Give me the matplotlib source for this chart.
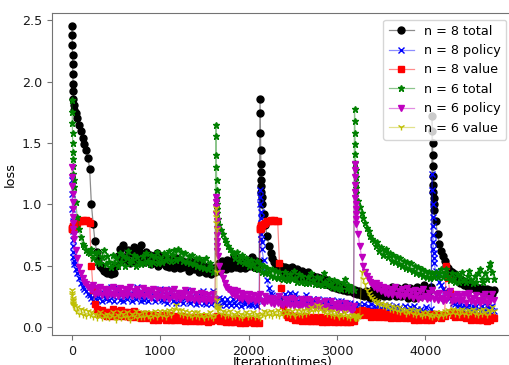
import numpy as np
import matplotlib
matplotlib.use("Agg")
import matplotlib.pyplot as plt
from matplotlib.colors import to_rgba

# iterations: dense right after each restart, every 20 otherwise
x_n8 = np.r_[0:20:2, 20:2130:20, 2130:2150:2, 2150:4080:20, 4080:4100:2, 4100:4800:20]
x_n6 = np.r_[0:20:2, 20:1630:20, 1630:1650:2, 1650:3200:20, 3200:3220:2, 3220:4800:20]

total8 = [
    2.45, 2.38, 2.30, 2.22, 2.14, 2.06, 1.98, 1.92, 1.86, 1.81,
    1.77, 1.74, 1.70, 1.65, 1.60, 1.54, 1.49, 1.44, 1.38, 1.29,
    1.00, 0.84, 0.70, 0.61, 0.55, 0.50, 0.48, 0.46, 0.45, 0.44,
    0.46, 0.43, 0.49, 0.44, 0.50, 0.58, 0.64, 0.55, 0.67, 0.57,
    0.55, 0.63, 0.52, 0.60, 0.65, 0.54, 0.58, 0.62, 0.67, 0.56,
    0.53, 0.61, 0.55, 0.59, 0.51, 0.58, 0.53, 0.60, 0.50, 0.57,
    0.52, 0.58, 0.50, 0.56, 0.49, 0.55, 0.53, 0.48, 0.56, 0.50,
    0.48, 0.55, 0.49, 0.53, 0.50, 0.46, 0.54, 0.49, 0.47, 0.53,
    0.50, 0.45, 0.52, 0.46, 0.50, 0.44, 0.49, 0.47, 0.43, 0.48,
    0.45, 0.49, 0.52, 0.46, 0.54, 0.49, 0.47, 0.55, 0.50, 0.48,
    0.53, 0.57, 0.49, 0.54, 0.48, 0.56, 0.51, 0.48, 0.55, 0.50,
    0.51, 0.57, 0.49, 0.54, 0.48, 0.53,
    1.86, 1.74, 1.58, 1.44, 1.33, 1.26, 1.20, 1.15, 1.10, 1.06,
    1.00, 0.92, 0.83, 0.74, 0.66, 0.60, 0.56, 0.53, 0.51, 0.49,
    0.47, 0.50, 0.45, 0.49, 0.44, 0.48, 0.43, 0.49, 0.45, 0.42,
    0.47, 0.43, 0.40, 0.46, 0.42, 0.39, 0.45, 0.41, 0.38, 0.42,
    0.38, 0.41, 0.36, 0.40, 0.36, 0.39, 0.35, 0.38, 0.34, 0.37,
    0.33, 0.36, 0.32, 0.35, 0.31, 0.34, 0.30, 0.33, 0.29, 0.32,
    0.29, 0.31, 0.28, 0.30, 0.27, 0.29, 0.26, 0.28, 0.25, 0.29,
    0.26, 0.24, 0.28, 0.31, 0.26, 0.24, 0.30, 0.32, 0.27, 0.25,
    0.31, 0.27, 0.25, 0.31, 0.33, 0.27, 0.25, 0.32, 0.28, 0.25,
    0.30, 0.33, 0.27, 0.24, 0.32, 0.28, 0.24, 0.31, 0.33, 0.27,
    0.25, 0.32, 0.34, 0.27, 0.25, 0.30, 0.33,
    1.72, 1.60, 1.50, 1.40, 1.31, 1.23, 1.16, 1.10, 1.05, 1.00,
    0.95, 0.86, 0.76, 0.68, 0.62, 0.58, 0.54, 0.50, 0.48, 0.46,
    0.45, 0.42, 0.43, 0.39, 0.40, 0.36, 0.38, 0.34, 0.36, 0.33,
    0.35, 0.32, 0.34, 0.31, 0.33, 0.30, 0.32, 0.29, 0.31, 0.28,
    0.31, 0.28, 0.30, 0.27, 0.30,
]

policy8 = [
    1.20, 1.08, 0.96, 0.86, 0.78, 0.71, 0.66, 0.61, 0.57, 0.54,
    0.51, 0.47, 0.44, 0.40, 0.36, 0.33, 0.31, 0.29, 0.27, 0.26,
    0.24, 0.21, 0.26, 0.22, 0.25, 0.28, 0.21, 0.26, 0.23, 0.27,
    0.22, 0.33, 0.25, 0.21, 0.27, 0.32, 0.22, 0.26, 0.21, 0.28,
    0.23, 0.30, 0.26, 0.21, 0.27, 0.23, 0.33, 0.25, 0.21, 0.26,
    0.22, 0.27, 0.21, 0.30, 0.24, 0.26, 0.21, 0.27, 0.23, 0.31,
    0.22, 0.21, 0.26, 0.20, 0.25, 0.31, 0.21, 0.26, 0.20, 0.24,
    0.21, 0.26, 0.20, 0.24, 0.30, 0.21, 0.20, 0.25, 0.22, 0.19,
    0.22, 0.20, 0.25, 0.29, 0.20, 0.19, 0.24, 0.21, 0.19, 0.29,
    0.21, 0.19, 0.24, 0.18, 0.23, 0.20, 0.18, 0.23, 0.20, 0.18,
    0.23, 0.20, 0.18, 0.23, 0.21, 0.17, 0.22, 0.19, 0.23, 0.18,
    0.22, 0.18, 0.22, 0.19, 0.17, 0.22,
    1.12, 1.06, 1.00, 0.94, 0.89, 0.84, 0.80, 0.76, 0.72, 0.69,
    0.64, 0.55, 0.46, 0.38, 0.32, 0.28, 0.26, 0.25, 0.24, 0.23,
    0.25, 0.21, 0.24, 0.27, 0.21, 0.23, 0.28, 0.21, 0.25, 0.27,
    0.21, 0.20, 0.24, 0.21, 0.19, 0.26, 0.20, 0.23, 0.19, 0.23,
    0.20, 0.18, 0.23, 0.21, 0.18, 0.22, 0.18, 0.22, 0.20, 0.17,
    0.22, 0.19, 0.17, 0.21, 0.17, 0.21, 0.18, 0.16, 0.20, 0.17,
    0.20, 0.16, 0.19, 0.17, 0.15, 0.19, 0.14, 0.17, 0.19, 0.14,
    0.17, 0.14, 0.19, 0.14, 0.17, 0.13, 0.18, 0.15, 0.13, 0.17,
    0.15, 0.13, 0.18, 0.13, 0.16, 0.13, 0.17, 0.12, 0.16, 0.14,
    0.12, 0.17, 0.14, 0.12, 0.16, 0.12, 0.17, 0.12, 0.15, 0.13,
    0.15, 0.12, 0.11, 0.16, 0.12, 0.11, 0.15,
    1.25, 1.12, 1.00, 0.90, 0.82, 0.75, 0.69, 0.64, 0.60, 0.56,
    0.52, 0.46, 0.41, 0.37, 0.34, 0.31, 0.29, 0.27, 0.25, 0.24,
    0.22, 0.20, 0.19, 0.17, 0.18, 0.19, 0.15, 0.18, 0.16, 0.14,
    0.18, 0.14, 0.17, 0.13, 0.17, 0.15, 0.13, 0.17, 0.15, 0.13,
    0.17, 0.13, 0.16, 0.17, 0.13,
]

value8 = [
    0.80, 0.80, 0.81, 0.80, 0.81, 0.81, 0.82, 0.81, 0.82, 0.82,
    0.83, 0.84, 0.85, 0.86, 0.86, 0.87, 0.86, 0.87, 0.86, 0.85,
    0.50, 0.30, 0.19, 0.15, 0.13, 0.11, 0.14, 0.10, 0.12, 0.09,
    0.12, 0.09, 0.15, 0.10, 0.13, 0.09, 0.12, 0.14, 0.09, 0.12,
    0.09, 0.12, 0.08, 0.11, 0.13, 0.08, 0.11, 0.09, 0.07, 0.11,
    0.08, 0.11, 0.07, 0.10, 0.08, 0.06, 0.10, 0.08, 0.06, 0.09,
    0.07, 0.10, 0.06, 0.08, 0.10, 0.06, 0.08, 0.06, 0.09, 0.07,
    0.06, 0.09, 0.07, 0.05, 0.08, 0.06, 0.05, 0.08, 0.06, 0.05,
    0.08, 0.05, 0.07, 0.05, 0.08, 0.06, 0.04, 0.07, 0.05, 0.07,
    0.06, 0.09, 0.07, 0.05, 0.08, 0.05, 0.04, 0.07, 0.05, 0.04,
    0.06, 0.04, 0.07, 0.05, 0.03, 0.06, 0.05, 0.03, 0.06, 0.04,
    0.06, 0.04, 0.03, 0.05, 0.04, 0.03,
    0.80, 0.80, 0.81, 0.81, 0.81, 0.82, 0.82, 0.82, 0.83, 0.83,
    0.83, 0.84, 0.85, 0.86, 0.86, 0.87, 0.86, 0.87, 0.86, 0.86,
    0.52, 0.32, 0.18, 0.12, 0.10, 0.08, 0.10, 0.07, 0.09, 0.06,
    0.09, 0.06, 0.08, 0.05, 0.07, 0.09, 0.05, 0.07, 0.05, 0.08,
    0.05, 0.07, 0.05, 0.08, 0.04, 0.07, 0.05, 0.04, 0.07, 0.05,
    0.07, 0.04, 0.06, 0.04, 0.07, 0.05, 0.04, 0.06, 0.04, 0.06,
    0.04, 0.06, 0.05, 0.08, 0.11, 0.13, 0.10, 0.14, 0.11, 0.13,
    0.10, 0.12, 0.08, 0.11, 0.09, 0.12, 0.08, 0.10, 0.12, 0.08,
    0.11, 0.08, 0.10, 0.07, 0.11, 0.08, 0.10, 0.07, 0.10, 0.08,
    0.10, 0.07, 0.09, 0.11, 0.07, 0.09, 0.06, 0.10, 0.08, 0.06,
    0.09, 0.07, 0.10, 0.06, 0.09, 0.07, 0.06,
    0.09, 0.07, 0.10, 0.08, 0.11, 0.08, 0.07, 0.10, 0.08, 0.09,
    0.09, 0.11, 0.08, 0.10, 0.07, 0.10, 0.09, 0.50, 0.40, 0.28,
    0.12, 0.10, 0.08, 0.11, 0.09, 0.11, 0.08, 0.10, 0.07, 0.10,
    0.08, 0.06, 0.09, 0.07, 0.09, 0.06, 0.08, 0.06, 0.09, 0.07,
    0.05, 0.08, 0.06, 0.08, 0.07,
]

total6 = [
    1.85, 1.75, 1.66, 1.58, 1.50, 1.43, 1.37, 1.31, 1.25, 1.20,
    1.14, 1.02, 0.90, 0.80, 0.73, 0.68, 0.66, 0.63, 0.61, 0.60,
    0.64, 0.56, 0.60, 0.53, 0.61, 0.52, 0.57, 0.63, 0.51, 0.58,
    0.53, 0.49, 0.59, 0.52, 0.56, 0.50, 0.60, 0.53, 0.58, 0.50,
    0.56, 0.62, 0.52, 0.55, 0.59, 0.50, 0.57, 0.53, 0.51, 0.58,
    0.52, 0.60, 0.54, 0.51, 0.59, 0.53, 0.57, 0.61, 0.52, 0.56,
    0.53, 0.60, 0.55, 0.58, 0.62, 0.54, 0.59, 0.63, 0.55, 0.64,
    0.56, 0.61, 0.54, 0.60, 0.53, 0.58, 0.52, 0.59, 0.51, 0.56,
    0.50, 0.56, 0.49, 0.55, 0.48, 0.56, 0.47, 0.52, 0.49, 0.45,
    0.46,
    1.65, 1.56, 1.40, 1.30, 1.20, 1.12, 1.05, 1.00, 0.96, 0.93,
    0.88, 0.83, 0.79, 0.76, 0.72, 0.69, 0.66, 0.64, 0.61, 0.60,
    0.56, 0.61, 0.54, 0.57, 0.59, 0.52, 0.56, 0.53, 0.50, 0.55,
    0.51, 0.48, 0.54, 0.47, 0.51, 0.45, 0.50, 0.44, 0.48, 0.45,
    0.42, 0.47, 0.41, 0.46, 0.40, 0.45, 0.41, 0.39, 0.45, 0.40,
    0.38, 0.43, 0.39, 0.46, 0.40, 0.37, 0.43, 0.37, 0.42, 0.37,
    0.36, 0.41, 0.36, 0.44, 0.38, 0.35, 0.41, 0.35, 0.40, 0.34,
    0.44, 0.37, 0.34, 0.39, 0.35, 0.33, 0.38, 0.32, 0.37, 0.32,
    0.31, 0.36, 0.39, 0.31, 0.34, 0.30, 0.33, 0.30,
    1.78, 1.68, 1.58, 1.49, 1.41, 1.34, 1.28, 1.22, 1.17, 1.13,
    1.09, 1.03, 0.98, 0.93, 0.89, 0.85, 0.81, 0.78, 0.74, 0.72,
    0.70, 0.66, 0.69, 0.62, 0.65, 0.59, 0.62, 0.64, 0.57, 0.60,
    0.54, 0.59, 0.53, 0.57, 0.51, 0.56, 0.50, 0.54, 0.48, 0.53,
    0.47, 0.52, 0.46, 0.50, 0.44, 0.49, 0.43, 0.47, 0.42, 0.46,
    0.41, 0.45, 0.40, 0.44, 0.41, 0.45, 0.41, 0.44, 0.47, 0.41,
    0.43, 0.47, 0.41, 0.38, 0.44, 0.39, 0.37, 0.43, 0.37, 0.41,
    0.45, 0.38, 0.37, 0.42, 0.46, 0.38, 0.36, 0.42, 0.37, 0.44,
    0.47, 0.39, 0.37, 0.44, 0.39, 0.49, 0.52, 0.45, 0.39,
]

policy6 = [
    1.30, 1.22, 1.15, 1.08, 1.02, 0.96, 0.90, 0.85, 0.80, 0.76,
    0.72, 0.63, 0.56, 0.49, 0.44, 0.40, 0.37, 0.35, 0.33, 0.32,
    0.30, 0.34, 0.27, 0.32, 0.28, 0.33, 0.26, 0.31, 0.29, 0.25,
    0.31, 0.27, 0.33, 0.26, 0.30, 0.25, 0.32, 0.28, 0.25, 0.31,
    0.26, 0.30, 0.33, 0.25, 0.29, 0.26, 0.31, 0.25, 0.28, 0.32,
    0.25, 0.30, 0.26, 0.29, 0.24, 0.31, 0.27, 0.24, 0.30, 0.25,
    0.29, 0.24, 0.30, 0.26, 0.23, 0.29, 0.25, 0.31, 0.24, 0.28,
    0.23, 0.28, 0.25, 0.30, 0.23, 0.27, 0.24, 0.29, 0.22, 0.27,
    0.24, 0.21, 0.28, 0.23, 0.27, 0.21, 0.26, 0.23, 0.21, 0.27,
    0.23,
    1.06, 1.02, 0.98, 0.92, 0.86, 0.80, 0.75, 0.70, 0.66, 0.62,
    0.58, 0.50, 0.44, 0.40, 0.36, 0.33, 0.31, 0.30, 0.27, 0.30,
    0.25, 0.29, 0.24, 0.28, 0.23, 0.27, 0.24, 0.21, 0.27, 0.23,
    0.26, 0.21, 0.25, 0.22, 0.27, 0.21, 0.20, 0.25, 0.21, 0.24,
    0.20, 0.24, 0.19, 0.23, 0.20, 0.25, 0.19, 0.18, 0.23, 0.19,
    0.22, 0.18, 0.24, 0.17, 0.22, 0.19, 0.17, 0.23, 0.18, 0.21,
    0.17, 0.23, 0.16, 0.21, 0.18, 0.16, 0.22, 0.17, 0.20, 0.16,
    0.15, 0.21, 0.17, 0.15, 0.21, 0.15, 0.19, 0.16, 0.14, 0.20,
    0.16, 0.14, 0.20, 0.15, 0.18, 0.15, 0.13, 0.17,
    1.33, 1.28, 1.22, 1.16, 1.10, 1.05, 1.00, 0.96, 0.92, 0.88,
    0.84, 0.76, 0.66, 0.57, 0.50, 0.45, 0.42, 0.39, 0.37, 0.35,
    0.33, 0.36, 0.31, 0.34, 0.29, 0.33, 0.28, 0.32, 0.27, 0.31,
    0.26, 0.30, 0.33, 0.26, 0.29, 0.25, 0.31, 0.25, 0.28, 0.32,
    0.25, 0.29, 0.24, 0.30, 0.26, 0.23, 0.29, 0.24, 0.31, 0.25,
    0.23, 0.28, 0.24, 0.30, 0.23, 0.27, 0.22, 0.28, 0.24, 0.21,
    0.27, 0.22, 0.26, 0.29, 0.21, 0.25, 0.22, 0.27, 0.21, 0.25,
    0.22, 0.27, 0.20, 0.25, 0.28, 0.21, 0.24, 0.20, 0.26, 0.22,
    0.20, 0.25, 0.21, 0.27, 0.20, 0.24, 0.21, 0.27, 0.22,
]

value6 = [
    0.30, 0.28, 0.26, 0.24, 0.22, 0.21, 0.20, 0.19, 0.18, 0.17,
    0.17, 0.13, 0.16, 0.11, 0.15, 0.10, 0.14, 0.09, 0.13, 0.10,
    0.12, 0.08, 0.11, 0.07, 0.10, 0.12, 0.07, 0.10, 0.08, 0.11,
    0.07, 0.10, 0.12, 0.08, 0.06, 0.10, 0.12, 0.07, 0.11, 0.08,
    0.12, 0.08, 0.06, 0.11, 0.09, 0.13, 0.07, 0.11, 0.08, 0.12,
    0.08, 0.12, 0.09, 0.07, 0.12, 0.09, 0.13, 0.08, 0.11, 0.13,
    0.09, 0.13, 0.08, 0.12, 0.14, 0.10, 0.13, 0.15, 0.18, 0.14,
    0.11, 0.14, 0.10, 0.13, 0.09, 0.12, 0.10, 0.08, 0.12, 0.09,
    0.12, 0.08, 0.11, 0.09, 0.07, 0.11, 0.08, 0.12, 0.09, 0.07,
    0.10,
    0.97, 0.94, 0.90, 0.85, 0.80, 0.45, 0.22, 0.18, 0.16, 0.15,
    0.14, 0.16, 0.11, 0.13, 0.09, 0.12, 0.10, 0.13, 0.08, 0.11,
    0.09, 0.12, 0.08, 0.11, 0.07, 0.10, 0.12, 0.08, 0.11, 0.09,
    0.12, 0.08, 0.11, 0.09, 0.07, 0.11, 0.13, 0.09, 0.12, 0.10,
    0.13, 0.09, 0.12, 0.10, 0.14, 0.09, 0.12, 0.10, 0.13, 0.11,
    0.14, 0.10, 0.13, 0.11, 0.09, 0.14, 0.11, 0.13, 0.10, 0.14,
    0.11, 0.15, 0.12, 0.16, 0.13, 0.15, 0.18, 0.13, 0.17, 0.14,
    0.12, 0.15, 0.11, 0.13, 0.10, 0.13, 0.09, 0.12, 0.10, 0.08,
    0.11, 0.09, 0.12, 0.08, 0.10, 0.07, 0.10, 0.08,
    0.09, 0.07, 0.10, 0.08, 0.07, 0.09, 0.07, 0.10, 0.08, 0.07,
    0.09, 0.07, 0.09, 0.45, 0.39, 0.35, 0.30, 0.28, 0.25, 0.24,
    0.22, 0.20, 0.21, 0.18, 0.20, 0.17, 0.19, 0.16, 0.18, 0.15,
    0.17, 0.14, 0.16, 0.13, 0.16, 0.12, 0.15, 0.13, 0.11, 0.14,
    0.12, 0.15, 0.11, 0.13, 0.10, 0.14, 0.11, 0.09, 0.12, 0.10,
    0.12, 0.09, 0.11, 0.08, 0.10, 0.12, 0.08, 0.10, 0.12, 0.09,
    0.13, 0.10, 0.14, 0.11, 0.13, 0.15, 0.11, 0.14, 0.10, 0.13,
    0.15, 0.11, 0.13, 0.10, 0.14, 0.12, 0.15, 0.11, 0.13, 0.10,
    0.14, 0.11, 0.15, 0.12, 0.10, 0.14, 0.12, 0.16, 0.13,
]

series = [
    (x_n8, total8, 'k', 'o', 'n = 8 total'),
    (x_n8, policy8, 'b', 'x', 'n = 8 policy'),
    (x_n8, value8, 'r', 's', 'n = 8 value'),
    (x_n6, total6, 'g', '*', 'n = 6 total'),
    (x_n6, policy6, 'm', 'v', 'n = 6 policy'),
    (x_n6, value6, 'y', '1', 'n = 6 value'),
]

plt.rcParams['font.size'] = 9.2

fig = plt.figure(figsize=(5.1, 3.65), dpi=100)
ax = fig.add_axes([0.102, 0.082, 0.903, 0.882])

for x, y, c, m, lab in series:
    ax.plot(x, y, color=to_rgba(c, 0.45), lw=0.9, marker=m, ms=5,
            mfc=c, mec=c, label=lab)

ax.set_xlim(-226, 4990)
ax.set_ylim(-0.065, 2.557)
ax.set_xticks([0, 1000, 2000, 3000, 4000])
ax.set_yticks([0.0, 0.5, 1.0, 1.5, 2.0, 2.5])
ax.set_xlabel('Iteration(times)', labelpad=-1)
ax.set_ylabel('loss')
for s in ax.spines.values():
    s.set_color('0.45')
ax.tick_params(colors='0.45', labelcolor='0.1')

ax.legend(loc='upper right')

fig.savefig('out.png', dpi=100)
